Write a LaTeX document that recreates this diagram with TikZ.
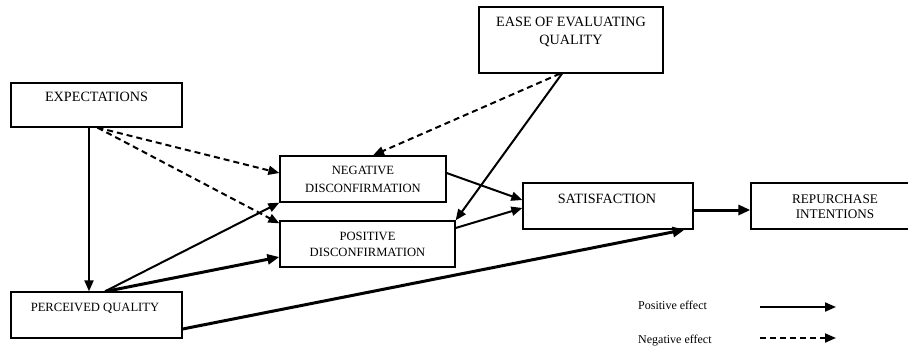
\documentclass[tikz,border=0pt]{standalone}
\usepackage{fontspec}
\setmainfont{Liberation Serif}
\usetikzlibrary{arrows.meta}
\begin{document}
\begin{tikzpicture}[x=1pt,y=-1pt,
  box/.style={draw,line width=1.3pt,inner sep=0pt},
  lbl/.style={inner sep=0pt,align=center},
  arr/.style={line width=2pt,-{Triangle[length=11pt,width=9pt]}},
  thk/.style={line width=3pt,-{Triangle[length=12pt,width=10pt]}},
  dsh/.style={line width=2pt,dash pattern=on 6pt off 4pt,-{Triangle[length=11pt,width=9pt]}}]
\useasboundingbox (0,0) rectangle (908,354);
% boxes
\node[box,minimum width=171pt,minimum height=44pt] (exp) at (96.5,105) {};
\node[lbl,font=\fontsize{14.2}{16}\selectfont] (expT) at (96.5,97) {EXPECTATIONS};
\node[box,minimum width=184pt,minimum height=66pt] (ease) at (571,40) {};
\node[lbl,font=\fontsize{14.2}{18}\selectfont] (easeT) at (571,32) {EASE OF EVALUATING\\QUALITY};
\node[box,minimum width=166pt,minimum height=46pt] (neg) at (363,179) {};
\node[lbl,font=\fontsize{12.6}{18}\selectfont] (negT) at (363,179) {NEGATIVE\\DISCONFIRMATION};
\node[box,minimum width=175pt,minimum height=46pt] (pos) at (367.5,244) {};
\node[lbl,font=\fontsize{12.6}{16}\selectfont] (posT) at (367.5,244) {POSITIVE\\DISCONFIRMATION};
\node[box,minimum width=170pt,minimum height=46pt] (sat) at (608,206) {};
\node[lbl,font=\fontsize{14.2}{16}\selectfont] (satT) at (607,199) {SATISFACTION};
\node[box,minimum width=163pt,minimum height=46pt] (rep) at (832.5,206) {};
\node[lbl,font=\fontsize{13.2}{15}\selectfont] (repT) at (835,206.5) {REPURCHASE\\INTENTIONS};
\node[box,minimum width=171pt,minimum height=46pt] (perc) at (96.5,315) {};
\node[lbl,font=\fontsize{12.6}{14}\selectfont] (percT) at (95,308) {PERCEIVED QUALITY};
% connectors
\draw[arr] ([xshift=-7.5pt]exp.south) -- ([xshift=-7.5pt]perc.north);
\draw[dsh] ([xshift=1pt]exp.south) -- ([yshift=6pt]neg.west);
\draw[dsh] ([xshift=1pt]exp.south) -- ([yshift=-3pt]pos.north west);
\draw[dsh] ([xshift=-11pt]ease.south) -- ([xshift=10pt]neg.north);
\draw[arr] ([xshift=-9pt]ease.south) -- (pos.north east);
\draw[arr] ([yshift=6pt]neg.east) -- ([yshift=6pt]sat.west);
\draw[arr] ([yshift=16pt]pos.east) -- ([yshift=-2pt]sat.west);
\draw[arr] ([xshift=8.5pt]perc.north) -- (neg.south west);
\draw[thk] ([xshift=9.5pt]perc.north) -- ([yshift=-13pt]pos.west);
\draw[thk] ([yshift=-14pt]perc.east) -- ([xshift=-9pt]sat.south east);
\draw[thk] ([yshift=-4pt]sat.east) -- ([yshift=-4pt]rep.west);
% legend
\node[lbl,anchor=west,font=\fontsize{12}{14}\selectfont] (lpT) at (638,305) {Positive effect};
\node[lbl,anchor=west,font=\fontsize{12}{14}\selectfont] (lnT) at (638,341) {Negative effect};
\coordinate (lp1) at (760,307);
\coordinate (lp2) at (836,307);
\coordinate (ln1) at (760,338);
\coordinate (ln2) at (836,338);
\draw[arr] (lp1) -- (lp2);
\draw[dsh] (ln1) -- (ln2);
\end{tikzpicture}
\end{document}
